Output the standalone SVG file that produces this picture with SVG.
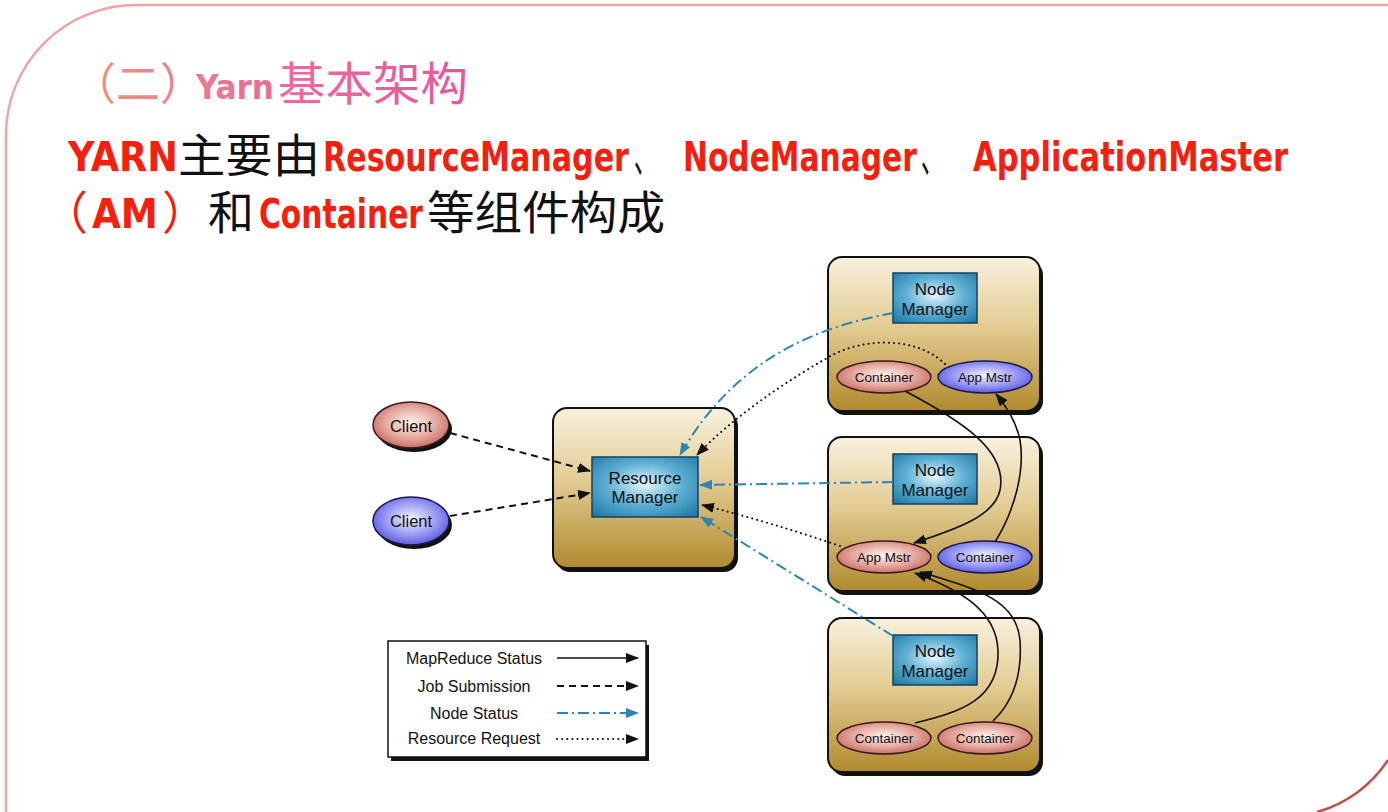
<svg xmlns="http://www.w3.org/2000/svg" width="1388" height="812" viewBox="0 0 1388 812">
<style>
.lat{font-family:"DejaVu Sans Condensed","DejaVu Sans","Liberation Sans",sans-serif;font-weight:bold;fill:#f51f0f}
.cjk{font-family:"Noto Sans CJK SC","Noto Sans",sans-serif;fill:#111}
.red{fill:#f51f0f}
.lbl{font-family:"Liberation Sans",Arial,sans-serif;fill:#111;text-anchor:middle}
.outer{stroke:#111;stroke-width:2;fill:url(#gold)}
.shadow{fill:#111}
.inner{stroke:#16405e;stroke-width:1.5;fill:url(#blueBox)}
.ered{stroke:#3a1a1a;stroke-width:1.5;fill:url(#redEl)}
.eblue{stroke:#1a1a4a;stroke-width:1.5;fill:url(#blueEl)}
.solid{fill:none;stroke:#111;stroke-width:1.6;marker-end:url(#ab)}
.dash{fill:none;stroke:#111;stroke-width:2;stroke-dasharray:7 5;marker-end:url(#ab)}
.dot{fill:none;stroke:#111;stroke-width:2;stroke-dasharray:0.1 5;stroke-linecap:round;marker-end:url(#ab)}
.dd{fill:none;stroke:#2b86b0;stroke-width:2;stroke-dasharray:11 4 2 4;marker-end:url(#abl)}
</style>
<defs>
<linearGradient id="gold" x1="0" y1="0" x2="0" y2="1">
<stop offset="0" stop-color="#f8f1de"/>
<stop offset="0.45" stop-color="#e3cc93"/>
<stop offset="1" stop-color="#b08a2e"/>
</linearGradient>
<radialGradient id="blueBox" cx="0.5" cy="0.45" r="0.7">
<stop offset="0" stop-color="#e6f6fc"/>
<stop offset="0.5" stop-color="#5fb0d4"/>
<stop offset="1" stop-color="#1f7aa8"/>
</radialGradient>
<radialGradient id="redEl" cx="0.5" cy="0.45" r="0.6">
<stop offset="0" stop-color="#fff3f0"/>
<stop offset="0.55" stop-color="#e6aaa0"/>
<stop offset="1" stop-color="#c0625a"/>
</radialGradient>
<radialGradient id="blueEl" cx="0.5" cy="0.45" r="0.6">
<stop offset="0" stop-color="#f2f2ff"/>
<stop offset="0.55" stop-color="#9c9cf4"/>
<stop offset="1" stop-color="#4f4fe0"/>
</radialGradient>
<linearGradient id="titleG" gradientUnits="userSpaceOnUse" x1="75" y1="0" x2="470" y2="0">
<stop offset="0" stop-color="#f0957a"/>
<stop offset="0.45" stop-color="#e8709a"/>
<stop offset="1" stop-color="#e8559e"/>
</linearGradient>
<marker id="ab" markerUnits="userSpaceOnUse" markerWidth="13" markerHeight="10" refX="12" refY="5" orient="auto">
<path d="M0,0 L13,5 L0,10 z" fill="#111"/>
</marker>
<marker id="abl" markerUnits="userSpaceOnUse" markerWidth="13" markerHeight="10" refX="12" refY="5" orient="auto">
<path d="M0,0 L13,5 L0,10 z" fill="#2b86b0"/>
</marker>
</defs>
<rect width="1388" height="812" fill="#fff"/>
<path d="M6 812 L6 135 A130 130 0 0 1 136 5 L1388 5" fill="none" stroke="#eda5a5" stroke-width="2.5"/>
<path d="M1317 812 A125 125 0 0 0 1388 760" fill="none" stroke="#c0504d" stroke-width="2.5"/>

<g id="title">
<text x="72" y="100" font-family="'Noto Sans CJK SC',sans-serif" font-size="44" fill="url(#titleG)">（二）</text>
<text x="196" y="99" font-family="'DejaVu Sans Condensed','DejaVu Sans',sans-serif" font-weight="bold" font-size="34" fill="url(#titleG)" textLength="78" lengthAdjust="spacingAndGlyphs">Yarn</text>
<text x="278" y="100" font-family="'Noto Sans CJK SC',sans-serif" font-size="46" fill="url(#titleG)" textLength="190" lengthAdjust="spacingAndGlyphs">基本架构</text>
</g>

<g id="subtitle">
<text class="lat" x="68" y="171" font-size="40" textLength="110" lengthAdjust="spacingAndGlyphs">YARN</text>
<text class="cjk" x="178" y="172" font-size="46" textLength="142" lengthAdjust="spacingAndGlyphs">主要由</text>
<text class="lat" x="323" y="171" font-size="40" textLength="306" lengthAdjust="spacingAndGlyphs">ResourceManager</text>
<text class="cjk" x="634" y="172" font-size="46" textLength="22" lengthAdjust="spacingAndGlyphs">、</text>
<text class="lat" x="683" y="171" font-size="40" textLength="234" lengthAdjust="spacingAndGlyphs">NodeManager</text>
<text class="cjk" x="921" y="172" font-size="46" textLength="22" lengthAdjust="spacingAndGlyphs">、</text>
<text class="lat" x="973" y="171" font-size="40" textLength="315" lengthAdjust="spacingAndGlyphs">ApplicationMaster</text>
<text class="cjk red" x="42" y="229" font-size="46">（</text>
<text class="lat" x="92" y="228" font-size="40" textLength="66" lengthAdjust="spacingAndGlyphs">AM</text>
<text class="cjk red" x="162" y="229" font-size="46">）</text>
<text class="cjk" x="208" y="229" font-size="46">和</text>
<text class="lat" x="259" y="228" font-size="40" textLength="164" lengthAdjust="spacingAndGlyphs">Container</text>
<text class="cjk" x="427" y="229" font-size="46" textLength="238" lengthAdjust="spacingAndGlyphs">等组件构成</text>
</g>

<g id="client1">
<ellipse cx="414" cy="429" rx="38" ry="23" class="shadow"/>
<ellipse cx="411" cy="425" rx="38" ry="23" class="ered"/>
<text class="lbl" x="411" y="432" font-size="16.5">Client</text>
</g>
<g id="client2">
<ellipse cx="414" cy="525" rx="38" ry="24" class="shadow"/>
<ellipse cx="411" cy="521" rx="38" ry="24" class="eblue"/>
<text class="lbl" x="411" y="527" font-size="16.5">Client</text>
</g>

<g id="resourcemanager">
<rect x="556" y="412" width="182" height="160" rx="14" class="shadow"/>
<rect x="553" y="408" width="182" height="160" rx="14" class="outer"/>
<rect x="592" y="457" width="106" height="60" class="inner"/>
<text class="lbl" x="645" y="484" font-size="17">Resource</text>
<text class="lbl" x="645" y="503" font-size="17">Manager</text>
</g>

<g id="node1">
<rect x="831" y="261" width="212" height="154" rx="14" class="shadow"/>
<rect x="828" y="257" width="212" height="154" rx="14" class="outer"/>
<rect x="893" y="273" width="84" height="50" class="inner"/>
<text class="lbl" x="935" y="295" font-size="17">Node</text>
<text class="lbl" x="935" y="315" font-size="17">Manager</text>
<ellipse cx="884" cy="377" rx="47" ry="16" class="ered"/>
<text class="lbl" x="884" y="382" font-size="13.5">Container</text>
<ellipse cx="985" cy="377" rx="47" ry="16" class="eblue"/>
<text class="lbl" x="985" y="382" font-size="13.5">App Mstr</text>
</g>

<g id="node2">
<rect x="831" y="441" width="212" height="154" rx="14" class="shadow"/>
<rect x="828" y="437" width="212" height="154" rx="14" class="outer"/>
<rect x="893" y="454" width="84" height="50" class="inner"/>
<text class="lbl" x="935" y="476" font-size="17">Node</text>
<text class="lbl" x="935" y="496" font-size="17">Manager</text>
<ellipse cx="884" cy="557" rx="47" ry="16" class="ered"/>
<text class="lbl" x="884" y="562" font-size="13.5">App Mstr</text>
<ellipse cx="985" cy="557" rx="47" ry="16" class="eblue"/>
<text class="lbl" x="985" y="562" font-size="13.5">Container</text>
</g>

<g id="node3">
<rect x="831" y="622" width="212" height="154" rx="14" class="shadow"/>
<rect x="828" y="618" width="212" height="154" rx="14" class="outer"/>
<rect x="893" y="635" width="84" height="50" class="inner"/>
<text class="lbl" x="935" y="657" font-size="17">Node</text>
<text class="lbl" x="935" y="677" font-size="17">Manager</text>
<ellipse cx="884" cy="738" rx="47" ry="16" class="ered"/>
<text class="lbl" x="884" y="743" font-size="13.5">Container</text>
<ellipse cx="985" cy="738" rx="47" ry="16" class="ered"/>
<text class="lbl" x="985" y="743" font-size="13.5">Container</text>
</g>

<g id="connectors">
<path class="dash" d="M450 433 L590 471"/>
<path class="dash" d="M450 516 L590 493"/>
<path class="dd" d="M893 313 C830 325 740 350 680 455"/>
<path class="dot" d="M945 364 C915 335 860 338 827 358 C780 385 730 420 697 455"/>
<path class="dd" d="M893 482 L700 485"/>
<path class="dot" d="M840 546 Q770 522 702 505"/>
<path class="dd" d="M893 636 L701 517"/>
<path class="solid" d="M905 391 C960 420 1008 450 1000 490 C995 515 960 528 914 543"/>
<path class="solid" d="M995 542 C1015 510 1025 470 1020 440 C1016 420 1006 406 996 394"/>
<path class="solid" d="M915 723 C960 712 1000 700 998 650 C996 610 960 590 915 573"/>
<path class="solid" d="M993 721 C1015 700 1022 670 1020 640 C1016 600 980 590 920 572"/>
</g>

<g id="legend">
<rect x="391" y="645" width="258" height="116" class="shadow"/>
<rect x="388" y="641" width="258" height="116" fill="#fff" stroke="#111" stroke-width="1.5"/>
<text class="lbl" x="474" y="664" font-size="16">MapReduce Status</text>
<text class="lbl" x="474" y="692" font-size="16">Job Submission</text>
<text class="lbl" x="474" y="719" font-size="16">Node Status</text>
<text class="lbl" x="474" y="744" font-size="16">Resource Request</text>
<path class="solid" d="M557 658 L638 658"/>
<path class="dash" d="M557 686 L638 686"/>
<path class="dd" d="M557 713 L638 713"/>
<path class="dot" d="M557 739 L638 739"/>
</g>
</svg>
